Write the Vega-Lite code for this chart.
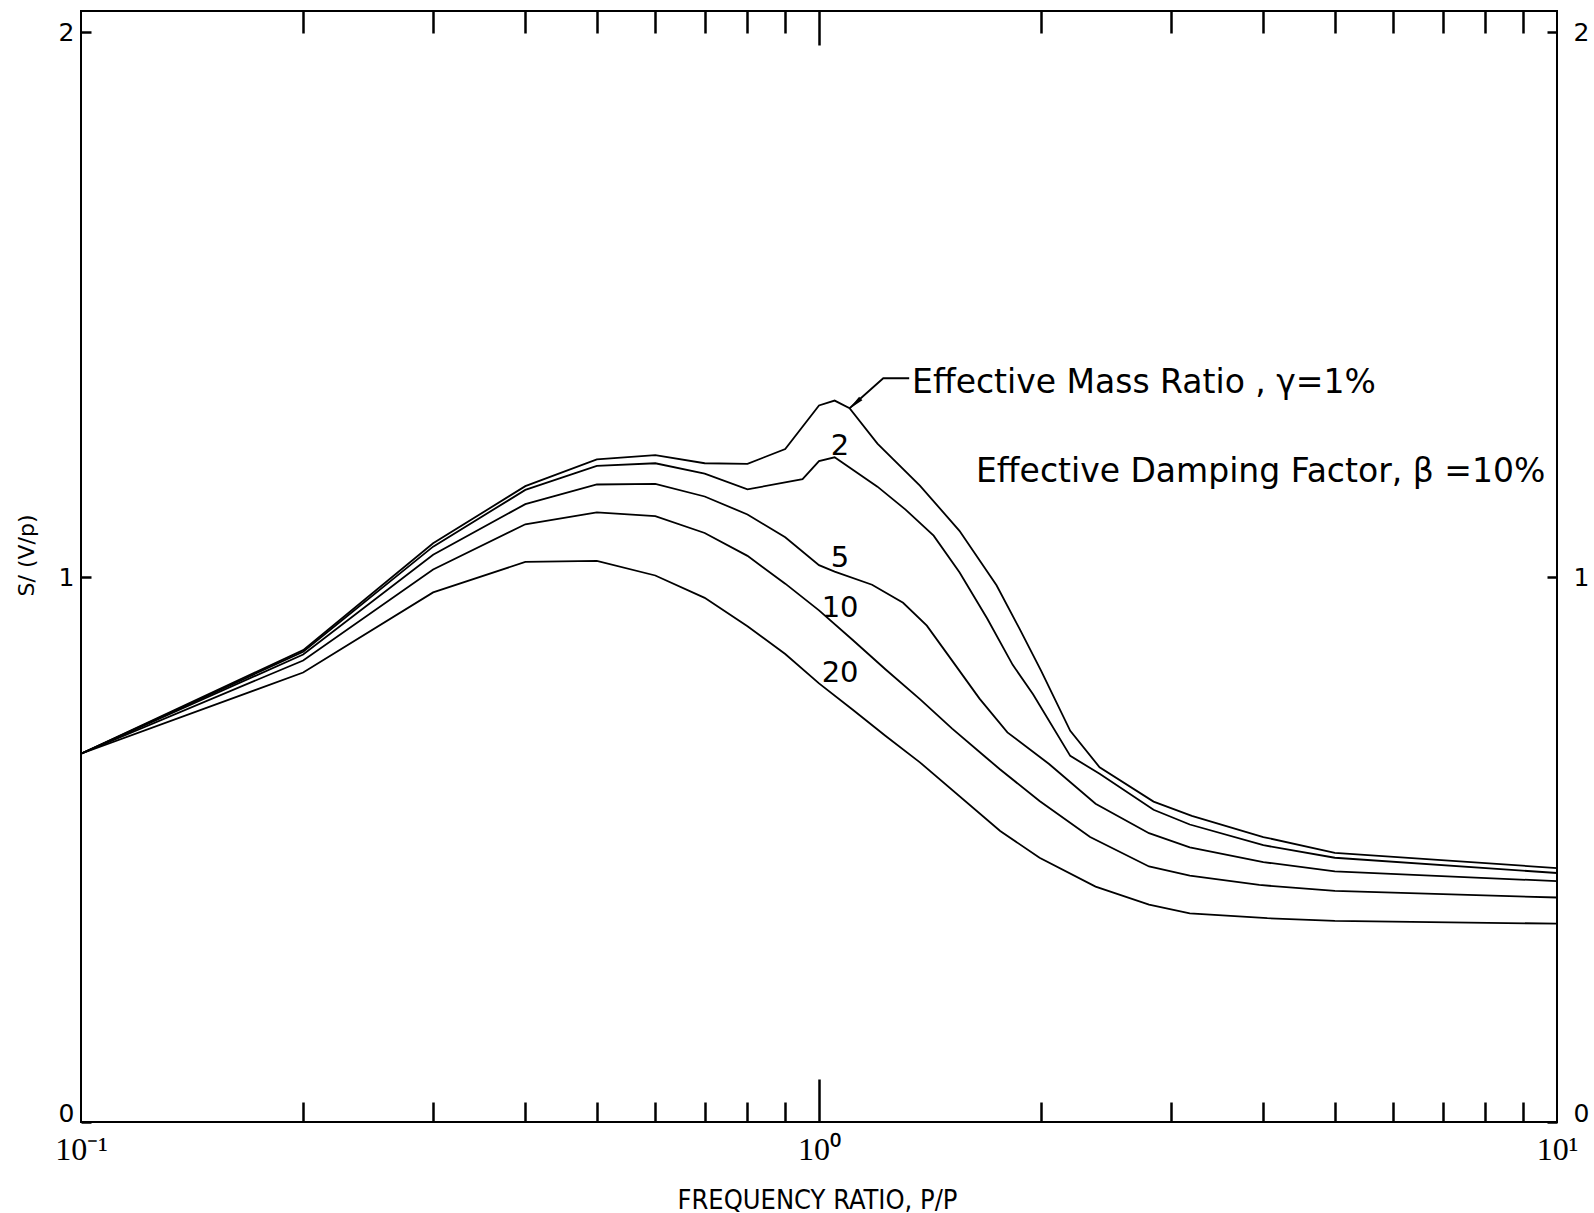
{
  "$schema": "https://vega.github.io/schema/vega-lite/v6.json",
  "autosize": {"type": "none"},
  "padding": {"left": 81, "top": 11, "right": 37, "bottom": 91},
  "width": 1476,
  "height": 1111,
  "background": "white",
  "config": {
    "view": {"stroke": "black", "strokeWidth": 2},
    "font": "DejaVu Sans",
    "axis": {"domain": false, "grid": false, "tickColor": "black", "tickWidth": 2.5, "labelColor": "black", "titleColor": "black", "titleFontWeight": "normal", "labelOverlap": false, "labelBound": false}
  },
  "datasets": {
    "curves": [
      {"series": "1", "f": 0.1, "v": 0.676}, {"series": "1", "f": 0.2, "v": 0.866}, {"series": "1", "f": 0.3, "v": 1.062}, {"series": "1", "f": 0.4, "v": 1.167}, {"series": "1", "f": 0.5, "v": 1.216}, {"series": "1", "f": 0.6, "v": 1.224}, {"series": "1", "f": 0.7, "v": 1.209}, {"series": "1", "f": 0.8, "v": 1.208}, {"series": "1", "f": 0.9, "v": 1.235}, {"series": "1", "f": 1.0, "v": 1.315}, {"series": "1", "f": 1.05, "v": 1.324}, {"series": "1", "f": 1.1, "v": 1.310}, {"series": "1", "f": 1.2, "v": 1.245}, {"series": "1", "f": 1.37, "v": 1.168}, {"series": "1", "f": 1.55, "v": 1.085}, {"series": "1", "f": 1.74, "v": 0.985}, {"series": "1", "f": 1.87, "v": 0.905}, {"series": "1", "f": 2.0, "v": 0.828}, {"series": "1", "f": 2.19, "v": 0.718}, {"series": "1", "f": 2.4, "v": 0.651}, {"series": "1", "f": 2.84, "v": 0.588}, {"series": "1", "f": 3.2, "v": 0.562}, {"series": "1", "f": 4.0, "v": 0.523}, {"series": "1", "f": 5.0, "v": 0.494}, {"series": "1", "f": 10.0, "v": 0.466},
      {"series": "2", "f": 0.1, "v": 0.676}, {"series": "2", "f": 0.2, "v": 0.863}, {"series": "2", "f": 0.3, "v": 1.056}, {"series": "2", "f": 0.4, "v": 1.160}, {"series": "2", "f": 0.5, "v": 1.204}, {"series": "2", "f": 0.6, "v": 1.209}, {"series": "2", "f": 0.7, "v": 1.190}, {"series": "2", "f": 0.8, "v": 1.161}, {"series": "2", "f": 0.95, "v": 1.180}, {"series": "2", "f": 1.0, "v": 1.213}, {"series": "2", "f": 1.05, "v": 1.220}, {"series": "2", "f": 1.2, "v": 1.166}, {"series": "2", "f": 1.31, "v": 1.124}, {"series": "2", "f": 1.43, "v": 1.076}, {"series": "2", "f": 1.55, "v": 1.009}, {"series": "2", "f": 1.69, "v": 0.924}, {"series": "2", "f": 1.83, "v": 0.839}, {"series": "2", "f": 1.95, "v": 0.785}, {"series": "2", "f": 2.19, "v": 0.672}, {"series": "2", "f": 2.4, "v": 0.639}, {"series": "2", "f": 2.84, "v": 0.573}, {"series": "2", "f": 3.18, "v": 0.546}, {"series": "2", "f": 4.0, "v": 0.508}, {"series": "2", "f": 5.0, "v": 0.485}, {"series": "2", "f": 10.0, "v": 0.457},
      {"series": "5", "f": 0.1, "v": 0.676}, {"series": "5", "f": 0.2, "v": 0.858}, {"series": "5", "f": 0.3, "v": 1.041}, {"series": "5", "f": 0.4, "v": 1.134}, {"series": "5", "f": 0.5, "v": 1.170}, {"series": "5", "f": 0.6, "v": 1.171}, {"series": "5", "f": 0.7, "v": 1.148}, {"series": "5", "f": 0.8, "v": 1.115}, {"series": "5", "f": 0.9, "v": 1.073}, {"series": "5", "f": 1.0, "v": 1.022}, {"series": "5", "f": 1.05, "v": 1.010}, {"series": "5", "f": 1.18, "v": 0.986}, {"series": "5", "f": 1.3, "v": 0.953}, {"series": "5", "f": 1.4, "v": 0.911}, {"series": "5", "f": 1.52, "v": 0.844}, {"series": "5", "f": 1.65, "v": 0.777}, {"series": "5", "f": 1.8, "v": 0.715}, {"series": "5", "f": 2.05, "v": 0.657}, {"series": "5", "f": 2.37, "v": 0.584}, {"series": "5", "f": 2.8, "v": 0.530}, {"series": "5", "f": 3.18, "v": 0.504}, {"series": "5", "f": 4.0, "v": 0.477}, {"series": "5", "f": 5.0, "v": 0.460}, {"series": "5", "f": 10.0, "v": 0.442},
      {"series": "10", "f": 0.1, "v": 0.676}, {"series": "10", "f": 0.2, "v": 0.847}, {"series": "10", "f": 0.3, "v": 1.014}, {"series": "10", "f": 0.4, "v": 1.097}, {"series": "10", "f": 0.5, "v": 1.119}, {"series": "10", "f": 0.6, "v": 1.112}, {"series": "10", "f": 0.7, "v": 1.081}, {"series": "10", "f": 0.8, "v": 1.039}, {"series": "10", "f": 0.9, "v": 0.988}, {"series": "10", "f": 1.0, "v": 0.939}, {"series": "10", "f": 1.11, "v": 0.885}, {"series": "10", "f": 1.23, "v": 0.831}, {"series": "10", "f": 1.37, "v": 0.776}, {"series": "10", "f": 1.515, "v": 0.722}, {"series": "10", "f": 1.687, "v": 0.668}, {"series": "10", "f": 1.76, "v": 0.647}, {"series": "10", "f": 1.99, "v": 0.589}, {"series": "10", "f": 2.33, "v": 0.523}, {"series": "10", "f": 2.8, "v": 0.469}, {"series": "10", "f": 3.18, "v": 0.452}, {"series": "10", "f": 3.95, "v": 0.435}, {"series": "10", "f": 5.0, "v": 0.424}, {"series": "10", "f": 10.0, "v": 0.412},
      {"series": "20", "f": 0.1, "v": 0.676}, {"series": "20", "f": 0.2, "v": 0.825}, {"series": "20", "f": 0.3, "v": 0.972}, {"series": "20", "f": 0.4, "v": 1.028}, {"series": "20", "f": 0.5, "v": 1.030}, {"series": "20", "f": 0.6, "v": 1.003}, {"series": "20", "f": 0.7, "v": 0.962}, {"series": "20", "f": 0.8, "v": 0.910}, {"series": "20", "f": 0.9, "v": 0.859}, {"series": "20", "f": 1.0, "v": 0.805}, {"series": "20", "f": 1.11, "v": 0.757}, {"series": "20", "f": 1.23, "v": 0.709}, {"series": "20", "f": 1.37, "v": 0.660}, {"series": "20", "f": 1.76, "v": 0.534}, {"series": "20", "f": 1.99, "v": 0.485}, {"series": "20", "f": 2.37, "v": 0.432}, {"series": "20", "f": 2.8, "v": 0.399}, {"series": "20", "f": 3.18, "v": 0.383}, {"series": "20", "f": 4.05, "v": 0.374}, {"series": "20", "f": 5.0, "v": 0.369}, {"series": "20", "f": 10.0, "v": 0.364}
    ],
    "curveLabels": [
      {"f": 1.068, "v": 1.241, "label": "2"},
      {"f": 1.068, "v": 1.036, "label": "5"},
      {"f": 1.068, "v": 0.943, "label": "10"},
      {"f": 1.068, "v": 0.824, "label": "20"}
    ],
    "leader": [
      {"step": 1, "f": 1.1, "v": 1.310},
      {"step": 2, "f": 1.222, "v": 1.365},
      {"step": 3, "f": 1.325, "v": 1.365}
    ],
    "arrowHead": [
      {"f": 1.118, "v": 1.318}
    ],
    "notes": [
      {"f": 1.337, "v": 1.338, "label": "Effective Mass Ratio , γ=1%"},
      {"f": 1.632, "v": 1.175, "label": "Effective Damping Factor, β =10%"}
    ]
  },
  "resolve": {"axis": {"x": "independent", "y": "independent"}},
  "layer": [
    {
      "data": {"name": "curves"},
      "mark": {"type": "line", "stroke": "black", "strokeWidth": 1.8, "clip": true},
      "encoding": {
        "x": {
          "field": "f", "type": "quantitative",
          "scale": {"type": "log", "domain": [0.1, 10], "nice": false},
          "axis": {
            "orient": "bottom", "values": [0.1, 1, 10], "ticks": false,
            "labelExpr": "datum.value < 0.5 ? '10⁻¹' : datum.value > 5 ? '10¹' : '10⁰'",
            "labelFont": "Liberation Serif", "labelFontSize": 32, "labelPadding": 12, "labelFlush": false,
            "title": "FREQUENCY RATIO, P/P", "titleFont": "DejaVu Sans Condensed", "titleFontSize": 27,
            "titleX": 736, "titleY": 86, "titleBaseline": "alphabetic", "titleAlign": "center"
          }
        },
        "y": {
          "field": "v", "type": "quantitative",
          "scale": {"domain": [0, 2.039], "nice": false, "zero": false},
          "axis": {
            "orient": "left", "values": [0, 1, 2], "ticks": false,
            "labelExpr": "datum.value < 0.5 ? '0' : datum.value < 1.5 ? '1' : '2'",
            "labelOffset": {"condition": {"test": "datum.value < 0.5", "value": -9}, "value": 0},
            "labelFont": "DejaVu Sans", "labelFontSize": 25, "labelPadding": 7,
            "title": "S/ (V/p)", "titleFont": "DejaVu Sans", "titleFontSize": 22,
            "titleAngle": -90, "titleX": -55, "titleY": 544, "titleAlign": "center", "titleBaseline": "middle"
          }
        },
        "detail": {"field": "series", "type": "nominal"}
      }
    },
    {
      "data": {"name": "curveLabels"},
      "mark": {"type": "text", "font": "DejaVu Sans", "fontSize": 29, "color": "black", "align": "center", "baseline": "middle"},
      "encoding": {
        "x": {"field": "f", "type": "quantitative", "axis": {"orient": "bottom", "values": [0.2, 0.3, 0.4, 0.5, 0.6, 0.7, 0.8, 0.9, 2, 3, 4, 5, 6, 7, 8, 9], "labels": false, "tickSize": -20, "title": null}},
        "y": {"field": "v", "type": "quantitative", "axis": {"orient": "right", "values": [0, 1, 2], "ticks": false, "labelExpr": "datum.value < 0.5 ? '0' : datum.value < 1.5 ? '1' : '2'", "labelOffset": {"condition": {"test": "datum.value < 0.5", "value": -9}, "value": 0}, "labelFont": "DejaVu Sans", "labelFontSize": 25, "labelPadding": 16, "title": null}},
        "text": {"field": "label", "type": "nominal"}
      }
    },
    {
      "data": {"name": "leader"},
      "mark": {"type": "line", "stroke": "black", "strokeWidth": 1.8},
      "encoding": {
        "x": {"field": "f", "type": "quantitative", "axis": {"orient": "bottom", "values": [1], "labels": false, "tickSize": -43, "title": null}},
        "y": {"field": "v", "type": "quantitative", "axis": {"orient": "left", "values": [0, 1, 2], "labels": false, "tickSize": -10, "title": null}},
        "order": {"field": "step", "type": "quantitative"}
      }
    },
    {
      "data": {"name": "arrowHead"},
      "mark": {"type": "point", "shape": "M0,-1L0.3,1L-0.3,1Z", "filled": true, "color": "black", "size": 260, "angle": 228, "opacity": 1},
      "encoding": {
        "x": {"field": "f", "type": "quantitative", "axis": {"orient": "top", "values": [0.2, 0.3, 0.4, 0.5, 0.6, 0.7, 0.8, 0.9, 2, 3, 4, 5, 6, 7, 8, 9], "labels": false, "tickSize": -22, "title": null}},
        "y": {"field": "v", "type": "quantitative", "axis": {"orient": "right", "values": [0, 1, 2], "labels": false, "tickSize": -10, "title": null}}
      }
    },
    {
      "data": {"name": "notes"},
      "mark": {"type": "text", "font": "DejaVu Sans", "fontSize": 33, "color": "black", "align": "left", "baseline": "alphabetic"},
      "encoding": {
        "x": {"field": "f", "type": "quantitative", "axis": {"orient": "top", "values": [1], "labels": false, "tickSize": -34, "title": null}},
        "y": {"field": "v", "type": "quantitative", "axis": null},
        "text": {"field": "label", "type": "nominal"}
      }
    }
  ]
}
